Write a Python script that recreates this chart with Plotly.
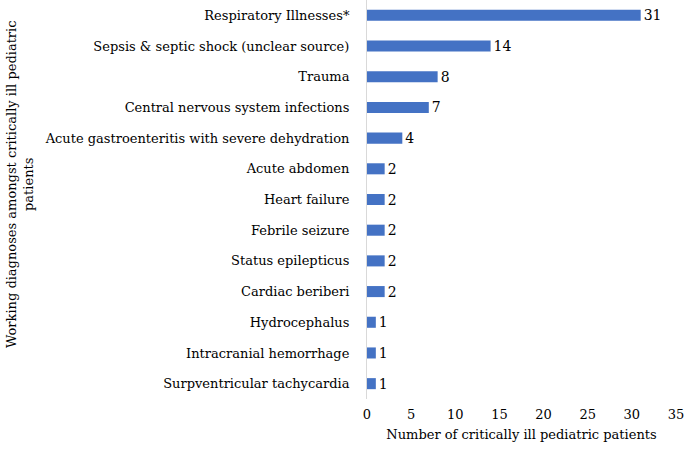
import plotly.graph_objects as go

categories = [
    "Respiratory Illnesses*",
    "Sepsis & septic shock (unclear source)",
    "Trauma",
    "Central nervous system infections",
    "Acute gastroenteritis with severe dehydration",
    "Acute abdomen",
    "Heart failure",
    "Febrile seizure",
    "Status epilepticus",
    "Cardiac beriberi",
    "Hydrocephalus",
    "Intracranial hemorrhage",
    "Surpventricular tachycardia",
]
values = [31, 14, 8, 7, 4, 2, 2, 2, 2, 2, 1, 1, 1]
x_ticks = [0, 5, 10, 15, 20, 25, 30, 35]

FONT = "DejaVu Serif"
FS = 13

fig = go.Figure(
    go.Bar(
        y=categories,
        x=values,
        orientation="h",
        marker=dict(color="#4472C4", line=dict(width=0)),
        width=0.36,
        text=[str(v) for v in values],
        textposition="outside",
        constraintext="none",
        textfont=dict(family=FONT, size=FS + 1, color="black"),
        cliponaxis=False,
    )
)

fig.update_layout(
    width=685,
    height=451,
    margin=dict(l=367, r=9, t=0, b=52, autoexpand=False),
    paper_bgcolor="white",
    plot_bgcolor="white",
    font=dict(family=FONT, size=FS, color="black"),
    showlegend=False,
    xaxis=dict(
        range=[0, 35],
        tickvals=x_ticks,
        showgrid=False,
        zeroline=False,
        showline=False,
        ticks="",
        automargin=False,
        ticklabeloverflow="allow",
        ticklabelstandoff=6,
        tickfont=dict(family=FONT, size=FS),
        title=dict(text="Number of critically ill pediatric patients", standoff=8,
                   font=dict(family=FONT, size=FS)),
    ),
    yaxis=dict(
        categoryorder="array",
        categoryarray=categories[::-1],
        autorange=False,
        range=[-0.5, len(categories) - 0.5],
        showgrid=False,
        zeroline=False,
        showline=True,
        linecolor="#d9d9d9",
        linewidth=1,
        ticks="",
        automargin=False,
        ticklabelstandoff=14,
        tickfont=dict(family=FONT, size=FS),
    ),
    annotations=[
        dict(
            text="Working diagnoses amongst critically ill pediatric<br>patients",
            xref="paper", yref="paper",
            x=(20 - 367) / 309, y=1 - 184 / 399,
            xanchor="center", yanchor="middle",
            textangle=-90,
            showarrow=False,
            font=dict(family=FONT, size=FS),
        )
    ],
)

fig.write_html("out.html", config={"displayModeBar": False},
               post_script="document.body.style.margin='0';")
